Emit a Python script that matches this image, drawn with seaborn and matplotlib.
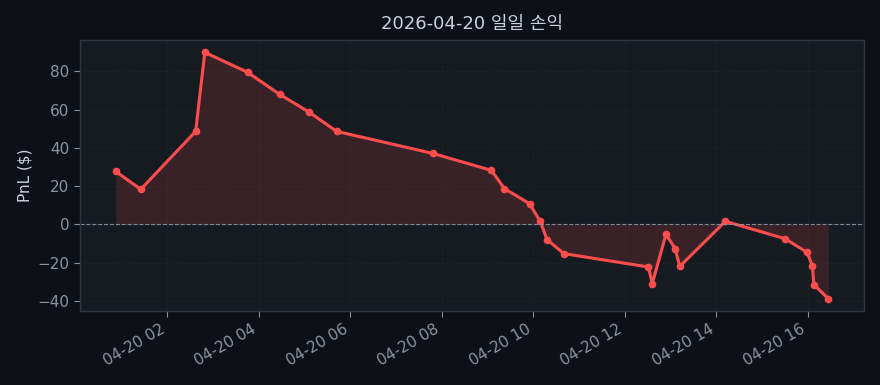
import matplotlib
matplotlib.use("Agg")
import matplotlib.pyplot as plt
import matplotlib.dates as mdates
import seaborn as sns
import pandas as pd

times = ["00:52", "01:25", "02:37", "02:49", "03:45", "04:27", "05:06", "05:42",
         "07:48", "09:05", "09:22", "09:55", "10:09", "10:18", "10:40", "12:31",
         "12:36", "12:54", "13:06", "13:12", "14:12", "15:30", "15:59", "16:06",
         "16:08", "16:27"]
pnl = [27.7, 18.3, 48.6, 89.9, 79.5, 68.0, 58.6, 48.6,
       37.1, 28.2, 18.7, 10.8, 1.6, -8.0, -15.3, -22.3,
       -31.0, -5.2, -12.7, -22.0, 1.6, -7.5, -14.6, -21.6,
       -31.5, -38.9]
date = "2026-04-20"
title = "2026-04-20 일일 손익"
ylabel = "PnL ($)"

df = pd.DataFrame({"time": pd.to_datetime([f"{date} {t}" for t in times]), "pnl": pnl})

sns.set_theme(style="dark")
plt.rcParams['font.family'] = ['DejaVu Sans', 'Noto Sans CJK KR']

fig_bg = "#0d1117"
ax_bg = "#161b22"
line_c = "#ff4d4d"
txt = "#8b949e"

fig = plt.figure(figsize=(8.8, 3.85), dpi=100, facecolor=fig_bg)
ax = fig.add_axes([0.0909, 0.192, 0.8909, 0.704])
ax.set_facecolor(ax_bg)

ax.fill_between(df["time"], df["pnl"], 0, color=line_c, alpha=0.15, linewidth=0)
sns.lineplot(data=df, x="time", y="pnl", ax=ax, color=line_c, linewidth=2.2,
             marker="o", markersize=5.5, markeredgewidth=0)
ax.axhline(0, color=txt, linestyle="--", linewidth=0.8, alpha=0.9)

ax.xaxis.set_major_locator(mdates.HourLocator(interval=2))
ax.xaxis.set_major_formatter(mdates.DateFormatter("%m-%d %H"))
for lbl in ax.get_xticklabels():
    lbl.set_rotation(30)
    lbl.set_ha("right")

ax.grid(True, color="#30363d", linestyle="--", linewidth=0.5, alpha=0.35)
for s in ax.spines.values():
    s.set_color("#30363d")
    s.set_linewidth(1.0)
ax.tick_params(axis="both", colors=txt, labelsize=11, length=4, width=0.8,
               bottom=True, left=True)
ax.set_xlabel("")
ax.set_ylabel(ylabel, color="#c9d1d9", fontsize=11)
ax.set_title(title, color="#c9d1d9", fontsize=13, pad=8,
             family=['DejaVu Sans', 'Noto Sans CJK KR'])

fig.savefig("out.png", dpi=100, facecolor=fig_bg)
